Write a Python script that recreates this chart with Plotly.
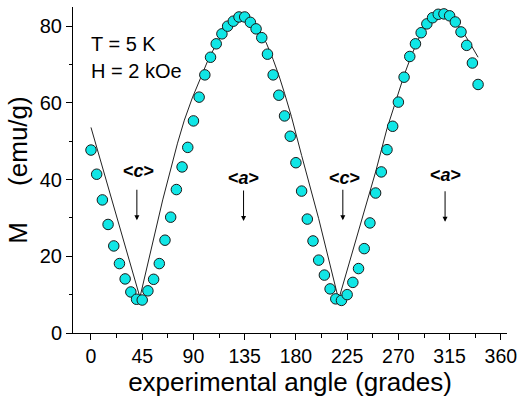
import plotly.graph_objects as go

# measured points (angle in grades, M in emu/g)
angle = list(range(0, 345, 5))
M = [47.7, 41.4, 34.7, 28.3, 22.7, 18.1, 14.1, 10.7, 8.8, 8.6,
     11.0, 14.0, 18.1, 24.2, 30.2, 37.4, 43.3, 48.4, 55.3, 61.5,
     67.3, 71.9, 75.4, 78.0, 80.0, 81.3, 82.4, 82.4, 81.0, 79.3,
     77.0, 72.7, 67.3, 62.0, 56.6, 51.3, 44.4, 37.0, 29.7, 24.0,
     19.0, 15.1, 11.5, 8.9, 8.5, 10.0, 13.2, 16.8, 22.0, 28.7,
     36.5, 42.0, 47.8, 53.9, 60.2, 66.7, 72.1, 75.4, 78.3, 80.6,
     82.2, 83.1, 83.2, 82.7, 81.1, 78.5, 75.0, 70.4, 64.8]

# fitted curve
fit_angle = [0, 43, 63, 70, 76, 82, 89, 96, 103, 110, 116, 120, 127, 133, 140,
             147, 154, 160, 165, 170, 176, 185, 200, 217.5, 243, 250, 260, 268,
             275, 281, 287, 293, 298, 303, 308, 316, 324, 332, 340]
fit_M = [53.6, 9.3, 34.7, 42.8, 49.5, 55.5, 61.3, 66.3, 71.3, 75.3, 78.5, 80.0,
         81.9, 82.6, 82.0, 79.6, 75.6, 71.3, 67.2, 62.5, 56.5, 46.3, 29.8, 8.7,
         34.5, 42.0, 53.3, 61.0, 67.2, 72.0, 76.3, 79.5, 81.5, 82.6, 83.0, 82.2,
         79.7, 76.0, 71.9]

# direction labels
dir_labels = ["c", "a", "c", "a"]
dir_angle = [41.5, 134, 222.4, 311]
dir_label_M = [42.2, 40.5, 40.4, 41.2]
dir_tip_M = [29.4, 29.2, 29.4, 29.0]

xticks = [0, 45, 90, 135, 180, 225, 270, 315, 360]
yticks = [0, 20, 40, 60, 80]

FONT = "Liberation Sans, Arial, sans-serif"

fig = go.Figure()
fig.add_trace(go.Scatter(x=fit_angle, y=fit_M, mode="lines",
                         line=dict(color="#222222", width=1), hoverinfo="skip"))
fig.add_trace(go.Scatter(x=angle, y=M, mode="markers",
                         marker=dict(size=10.5, color="#10e6e6",
                                     line=dict(color="#1a1a1a", width=1))))

for lab, xa, ly, ty in zip(dir_labels, dir_angle, dir_label_M, dir_tip_M):
    fig.add_annotation(x=xa, y=ly, xref="x", yref="y", showarrow=False,
                       text="<b>&lt;<i>" + lab + "</i>&gt;</b>",
                       font=dict(family=FONT, size=18, color="black"))
    fig.add_annotation(x=xa - 1.2 if lab == "c" else xa, y=ty, xref="x", yref="y", text="",
                       showarrow=True, ax=0, ay=-32, arrowhead=2,
                       arrowsize=1, arrowwidth=1, arrowcolor="black")

fig.add_annotation(x=-1.5, y=75.3, xref="x", yref="y", xanchor="left",
                   showarrow=False, text="T = 5 K",
                   font=dict(family=FONT, size=20, color="black"))
fig.add_annotation(x=-1.5, y=68.3, xref="x", yref="y", xanchor="left",
                   showarrow=False, text="H = 2 kOe",
                   font=dict(family=FONT, size=20, color="black"))

fig.update_layout(
    width=524, height=400,
    margin=dict(l=73, r=10, t=7, b=67),
    paper_bgcolor="white", plot_bgcolor="white",
    showlegend=False,
    font=dict(family=FONT, color="black"),
    xaxis=dict(range=[-15.8, 365.4], tickvals=xticks,
               ticks="outside", ticklen=6, tickwidth=1, tickcolor="black",
               showline=True, linecolor="black", linewidth=1,
               showgrid=False, zeroline=False, ticklabeloverflow="allow",
               minor=dict(dtick=22.5, tick0=0, ticks="outside", ticklen=3.5,
                          tickcolor="black", showgrid=False),
               tickfont=dict(size=19.5, family=FONT),
               title=dict(text="experimental angle (grades)",
                          font=dict(size=26, family=FONT), standoff=0)),
    yaxis=dict(range=[0, 85], tickvals=yticks,
               ticks="outside", ticklen=6, tickwidth=1, tickcolor="black",
               showline=True, linecolor="black", linewidth=1,
               showgrid=False, zeroline=False,
               minor=dict(dtick=10, tick0=0, ticks="outside", ticklen=3.5,
                          tickcolor="black", showgrid=False),
               tickfont=dict(size=20, family=FONT),
               title=dict(text="M\u00a0\u00a0\u00a0\u00a0\u00a0(emu/g)",
                          font=dict(size=26, family=FONT), standoff=4)),
)

fig.write_html("out.html")
